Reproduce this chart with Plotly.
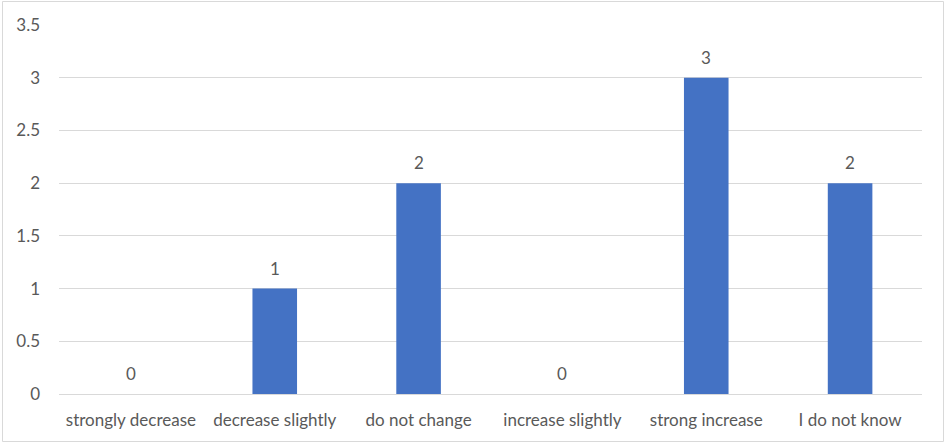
import plotly.graph_objects as go

categories = ["strongly decrease", "decrease slightly", "do not change",
              "increase slightly", "strong increase", "I do not know"]
values = [0, 1, 2, 0, 3, 2]
tick_vals = [0, 0.5, 1, 1.5, 2, 2.5, 3, 3.5]
tick_text = ["0", "0.5", "1", "1.5", "2", "2.5", "3", "3.5"]

W, H = 945, 443
L, R, T, B = 59, 23, 25, 49
pw, ph = W - L - R, H - T - B
FONT = "Lato, Open Sans, sans-serif"
TXT = "#595959"

fig = go.Figure(go.Bar(
    x=categories, y=values, marker_color="#4472C4", marker_line_width=0,
    hoverinfo="x+y",
))

for c, v in zip(categories, values):
    fig.add_annotation(x=c, y=v, text=str(v), showarrow=False,
                       yanchor="bottom", yshift=8,
                       font=dict(family=FONT, color=TXT, size=17))

def px(x):
    return (x - L) / pw

def py(y):
    return (H - B - y) / ph

fig.add_shape(type="rect", xref="paper", yref="paper",
              x0=px(2.5), x1=px(943.5), y0=py(1.5), y1=py(441.5),
              line=dict(color="#D9D9D9", width=1), fillcolor="rgba(0,0,0,0)", layer="below")

fig.update_layout(
    width=W, height=H, margin=dict(l=L, r=R, t=T, b=B, pad=0),
    paper_bgcolor="white", plot_bgcolor="white",
    font=dict(family=FONT, color=TXT, size=17),
    bargap=0.69, showlegend=False,
    xaxis=dict(showgrid=False, showline=True, linecolor="#D9D9D9", linewidth=1,
               ticks="", tickfont=dict(size=17), ticklabelstandoff=11),
    yaxis=dict(range=[0, 3.5], tickvals=tick_vals, ticktext=tick_text,
               showgrid=True, gridcolor="#D9D9D9", gridwidth=1, zeroline=False,
               showline=False, ticks="", ticklabelstandoff=18,
               tickfont=dict(size=17)),
)

fig.write_html("out.html", config={"displayModeBar": False},
               post_script="document.body.style.margin='0';document.body.style.padding='0';")
